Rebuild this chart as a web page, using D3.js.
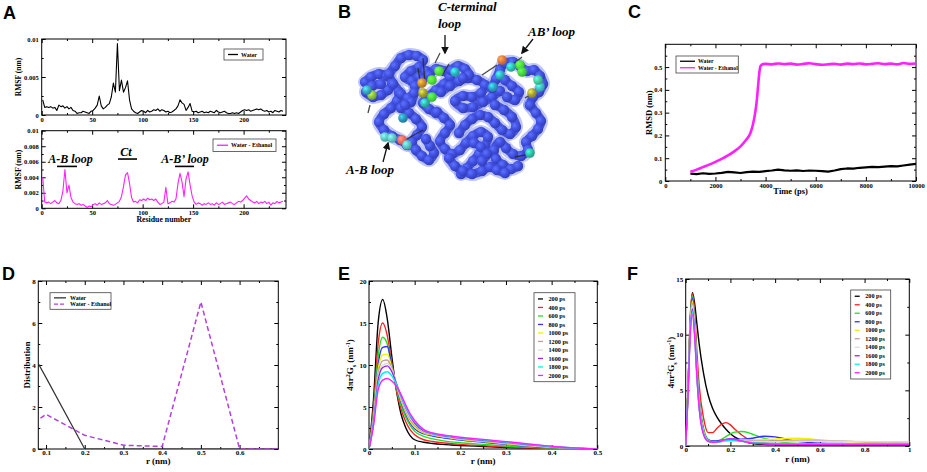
<!DOCTYPE html>
<html>
<head>
<meta charset="utf-8">
<script src="https://cdnjs.cloudflare.com/ajax/libs/d3/7.8.5/d3.min.js"></script>
<style>
  body { margin: 0; background: #fff; }
  text { font-family: "Liberation Serif", "Times New Roman", serif; font-weight: bold; }
  .plabel { font-family: "Liberation Sans", Arial, sans-serif; font-size: 18px; }
  .note { font-style: italic; font-size: 13px; }
</style>
</head>
<body>
<svg id="fig" width="927" height="472"></svg>
<script>
// ---------- data ----------
// A: RMSF per residue (units of 10^-3 nm), every second residue
const residues = d3.range(1, 240, 2)
const rmsfWater = [2.0,1.0,1.1,1.0,1.1,0.9,1.0,0.6,1.3,1.1,
  1.2,0.9,1.1,0.8,1.0,0.6,0.5,0.2,0.3,0.3,
  0.5,0.4,0.3,0.2,0.5,0.6,0.9,1.3,2.5,1.2,
  0.8,1.0,1.3,1.5,2.4,4.2,3.0,9.4,3.2,4.6,
  3.0,3.6,4.5,2.0,0.8,0.5,0.3,0.2,0.4,0.6,
  0.5,0.3,0.6,0.4,0.5,0.7,0.6,0.8,0.5,0.7,
  0.6,0.4,0.5,0.3,0.4,0.6,0.8,1.2,2.0,1.6,
  1.4,0.6,1.0,1.5,0.5,0.4,0.5,0.3,0.4,0.5,
  0.3,0.4,0.3,0.5,0.4,0.3,0.6,0.4,0.3,0.4,
  0.5,0.3,0.2,0.2,0.3,0.2,0.3,0.2,0.4,0.6,
  0.7,0.6,0.7,0.5,0.6,0.7,0.8,0.7,0.8,0.6,
  0.5,0.6,0.4,0.5,0.3,0.6,0.5,0.4,0.6,0.5]
const rmsfEthanol = [4.0,0.8,0.7,0.8,0.6,0.8,1.0,0.7,0.6,1.0,
  2.2,5.0,2.0,3.0,1.4,0.8,0.6,0.5,0.6,0.4,
  0.5,0.3,0.1,0.3,0.2,0.5,0.6,0.4,0.7,0.5,
  0.6,0.7,1.0,0.6,0.5,0.4,0.5,0.7,0.9,1.5,
  2.8,4.3,4.6,3.2,1.4,0.8,0.9,0.7,1.1,1.0,
  1.2,1.0,1.3,1.1,1.2,1.0,1.2,0.8,0.5,0.6,
  0.8,2.7,0.6,0.7,0.9,0.8,1.2,3.2,4.5,3.4,
  1.5,3.8,4.7,3.0,1.6,0.8,0.5,0.7,0.6,0.4,
  0.6,0.5,0.7,0.5,0.6,0.4,0.7,0.5,0.6,0.8,
  0.5,0.6,0.7,0.8,0.6,0.5,0.7,0.9,0.8,1.0,
  1.3,1.6,1.2,1.0,0.8,0.7,0.9,0.6,0.8,0.7,
  0.9,0.6,0.8,0.4,0.7,0.6,0.9,0.7,0.8,0.9]

// C: RMSD vs time
const timeWater = d3.range(1000, 10001, 250)
const rmsdWater = [0.032,0.030,0.034,0.031,0.033,0.036,0.040,0.038,0.035,0.039,
  0.041,0.040,0.043,0.046,0.050,0.047,0.045,0.047,0.044,0.046,
  0.045,0.043,0.041,0.046,0.052,0.055,0.054,0.058,0.060,0.062,
  0.061,0.063,0.065,0.064,0.068,0.072,0.075]
const timeEthanol = [1000,1250,1500,1750,2000,2250,2500,2750,3000,3200,3400,3500,3600,3650,3700,3750,3800,3900,4000,
  4250,4500,4750,5000,5250,5500,5750,6000,6250,6500,6750,7000,7250,7500,7750,8000,8250,8500,8750,9000,9250,9500,9750,10000]
const rmsdEthanol = [0.040,0.050,0.061,0.072,0.084,0.097,0.112,0.130,0.152,0.178,0.212,0.250,0.310,0.355,0.415,0.475,0.505,0.513,0.514,
  0.512,0.516,0.513,0.515,0.511,0.514,0.517,0.513,0.510,0.512,0.514,0.511,0.515,0.513,0.516,0.512,0.514,0.517,0.513,0.515,0.512,0.518,0.514,0.516]

// D: distribution
const rD = [0, 0.1, 0.2, 0.3, 0.4, 0.5, 0.6, 0.7]
const distWater = [6.75, 3.4, 0, 0, 0, 0, 0, 0]
const distEthanol = [0.4, 1.65, 0.65, 0.18, 0.12, 7.0, 0, 0]

// E, F: 4πr²Gs curves for each time frame
const frameLabels = ["200 ps","400 ps","600 ps","800 ps","1000 ps","1200 ps","1400 ps","1600 ps","1800 ps","2000 ps"]
const frameColors = ["#000000","#ff2020","#20e020","#3030ff","#f0f000","#c89c9c","#dcdcdc","#a020f0","#00f0f0","#ff20ff"]
const rE = [0,.01,.02,.03,.04,.05,.06,.07,.08,.09,.10,.12,.14,.16,.18,.20,.25,.30,.35,.40,.45,.50]
const gsE = [
  [0,6.0,15.0,17.8,15.5,11.0,7.0,4.2,2.6,1.6,1.1,0.8,0.65,0.55,0.48,0.42,0.30,0.18,0.10,0.05,0.02,0],
  [0,5.0,12.5,15.0,13.5,10.2,7.0,4.8,3.3,2.3,1.7,1.1,0.9,0.75,0.65,0.55,0.40,0.25,0.15,0.08,0.03,0],
  [0,4.5,11.0,13.3,12.5,10.0,7.3,5.2,3.8,2.8,2.1,1.5,1.2,1.0,0.85,0.75,0.55,0.35,0.20,0.10,0.04,0],
  [0,4.0,10.0,12.1,12.2,9.9,7.5,5.6,4.2,3.1,2.4,1.8,1.55,1.35,1.2,1.05,0.80,0.55,0.32,0.16,0.06,0],
  [0,3.8,9.5,11.2,11.3,9.7,7.6,5.8,4.4,3.3,2.6,1.9,1.65,1.45,1.3,1.15,0.90,0.62,0.38,0.20,0.08,0],
  [0,3.6,9.0,10.5,10.6,9.5,7.7,6.0,4.6,3.5,2.8,2.0,1.7,1.5,1.35,1.2,0.95,0.68,0.42,0.22,0.09,0],
  [0,3.4,8.5,10.0,10.2,9.4,7.8,6.1,4.8,3.7,3.0,2.1,1.75,1.55,1.4,1.25,1.0,0.72,0.45,0.24,0.10,0],
  [0,3.2,8.2,9.7,9.9,9.2,7.8,6.3,5.0,3.9,3.1,2.15,1.8,1.6,1.45,1.3,1.05,0.78,0.50,0.27,0.11,0],
  [0,3.0,7.6,9.0,9.2,8.7,7.7,6.4,5.1,4.0,3.3,2.25,1.85,1.65,1.5,1.35,1.1,0.82,0.55,0.30,0.12,0],
  [0,2.8,7.0,8.2,8.4,8.1,7.5,6.5,5.3,4.2,3.4,2.3,1.9,1.7,1.55,1.4,1.15,0.88,0.60,0.33,0.13,0]]
const rF = [0,.01,.02,.03,.04,.05,.06,.08,.10,.12,.14,.16,.18,.20,.22,.25,.28,.30,.35,.40,.45,.50,.55,.60,.70,.80,.90,1.0]
const gsF = [
  [0,5.0,11.0,13.8,12.8,11.0,9.2,6.5,4.6,3.4,2.6,2.0,1.5,1.1,0.8,0.5,0.3,0.22,0.15,0.12,0.1,0.1,0.1,0.1,0.1,0.1,0.1,0.1],
  [0,5.0,11.5,13.7,12.0,8.5,5.5,2.5,1.2,1.2,1.6,1.95,2.1,1.9,1.5,1.0,0.6,0.45,0.3,0.22,0.18,0.15,0.14,0.13,0.12,0.12,0.12,0.12],
  [0,5.0,11.3,13.5,11.5,7.5,4.5,1.6,0.6,0.42,0.45,0.6,0.85,1.1,1.25,1.3,1.2,1.05,0.7,0.45,0.3,0.22,0.2,0.18,0.17,0.17,0.17,0.17],
  [0,4.8,11.0,13.3,11.2,7.2,4.2,1.4,0.55,0.45,0.45,0.5,0.55,0.6,0.62,0.62,0.65,0.7,0.88,0.82,0.6,0.42,0.32,0.26,0.22,0.2,0.2,0.2],
  [0,4.7,10.8,13.0,11.0,7.0,4.0,1.3,0.5,0.38,0.38,0.42,0.48,0.52,0.55,0.55,0.55,0.55,0.58,0.62,0.68,0.7,0.65,0.55,0.42,0.35,0.33,0.32],
  [0,4.6,10.6,12.8,10.8,6.8,3.9,1.25,0.5,0.36,0.36,0.4,0.45,0.5,0.5,0.5,0.48,0.46,0.45,0.47,0.5,0.52,0.52,0.5,0.45,0.38,0.35,0.33],
  [0,4.5,10.4,12.6,10.6,6.6,3.8,1.2,0.48,0.35,0.35,0.4,0.45,0.48,0.47,0.45,0.42,0.4,0.38,0.38,0.4,0.42,0.42,0.42,0.42,0.4,0.38,0.36],
  [0,4.4,10.2,12.3,10.2,6.4,3.6,1.1,0.45,0.35,0.37,0.48,0.6,0.65,0.6,0.45,0.32,0.26,0.2,0.17,0.16,0.15,0.15,0.15,0.15,0.15,0.15,0.15],
  [0,4.3,10.0,12.0,10.0,6.3,3.5,1.05,0.42,0.33,0.34,0.4,0.48,0.52,0.5,0.42,0.35,0.3,0.25,0.22,0.2,0.2,0.2,0.2,0.2,0.2,0.2,0.2],
  [0,4.2,9.8,11.8,9.8,6.2,3.4,1.0,0.42,0.34,0.36,0.47,0.58,0.62,0.58,0.44,0.32,0.26,0.2,0.17,0.16,0.15,0.15,0.15,0.15,0.15,0.15,0.15]]

// tick values
const ticksA = [0, 50, 100, 150, 200], minorA = d3.range(25, 242, 50)
const ticksAyTop = [0, 5, 10], minorAyTop = [2.5, 7.5]
const ticksAyBot = [0, 2, 4, 6, 8, 10], minorAyBot = [1, 3, 5, 7, 9]
const ticksCx = [0, 2000, 4000, 6000, 8000, 10000], minorCx = [1000, 3000, 5000, 7000, 9000]
const ticksCy = [0, 0.1, 0.2, 0.3, 0.4, 0.5], minorCy = [0.05, 0.15, 0.25, 0.35, 0.45, 0.55]
const ticksDx = [0.1, 0.2, 0.3, 0.4, 0.5, 0.6], minorDx = [0.15, 0.25, 0.35, 0.45, 0.55, 0.65]
const ticksDy = [0, 2, 4, 6, 8], minorDy = [1, 3, 5, 7]
const ticksEx = [0, 0.1, 0.2, 0.3, 0.4, 0.5], minorEx = [0.05, 0.15, 0.25, 0.35, 0.45]
const ticksEy = [0, 5, 10, 15, 20], minorEy = [2.5, 7.5, 12.5, 17.5]
const ticksFx = [0, 0.2, 0.4, 0.6, 0.8, 1], minorFx = [0.1, 0.3, 0.5, 0.7, 0.9]
const ticksFy = [0, 5, 10, 15], minorFy = [2.5, 7.5, 12.5]

// B: protein structure sketch (local coordinates)
const chains = [
  [[10,32],[16,27],[24,24],[32,26],[37,33],[33,40],[26,45],[18,47],[11,42],[17,36],[26,34]],
  [[34,24],[40,16],[46,8],[54,5],[62,6],[68,10],[64,17],[56,21],[50,27],[57,31],[64,27],[71,21]],
  [[38,34],[44,42],[42,51],[36,58],[29,64],[24,72],[29,80],[37,86],[45,90],[52,95]],
  [[46,58],[54,63],[61,69],[67,77],[62,85],[57,92],[61,100],[67,106],[74,110],[79,103],[75,96],[71,89]],
  [[60,36],[67,30],[74,25],[81,19],[89,21],[95,27],[89,34],[81,40],[74,46],[68,53],[74,59],[81,63]],
  [[86,42],[95,36],[104,31],[113,28],[122,30],[130,35],[126,43],[117,47],[108,46],[100,51],[108,58],[118,57],[128,52],[137,47],[145,41]],
  [[82,62],[89,68],[95,75],[90,83],[85,91],[90,99],[97,104],[105,100],[111,93],[118,86],[126,82],[133,87],[130,96],[124,104],[118,111],[112,118],[106,124]],
  [[137,38],[141,29],[145,20],[150,13],[158,12],[165,16],[172,21],[179,20],[185,26],[188,34],[184,42],[178,47],[175,55]],
  [[175,55],[181,63],[186,71],[183,79],[177,86],[171,92],[173,100],[166,106],[158,104],[151,98],[145,92],[139,100],[141,109],[148,115],[156,119],[163,116]],
  [[140,55],[149,60],[157,67],[161,77],[155,84],[147,80],[140,73],[133,67],[125,65],[117,69],[110,75],[104,83]],
  [[94,108],[100,116],[108,121],[117,124],[127,121],[135,117],[142,120],[150,123]],
  [[96,20],[103,16],[110,19],[114,25],[108,28]],
  [[46,44],[53,48],[59,43],[56,52],[50,55]],
  [[150,30],[157,36],[164,42],[160,50],[152,47]],
  [[119,93],[126,97],[132,104],[127,111]]]
const hotBeads = [[17,45,"#8cc63f"],[12,40,"#3aa6b9"],[67,33,"#c98a2e"],[68,43,"#a3a32f"],[77,30,"#4ee23a"],
  [84,21,"#55e03c"],[77,47,"#44dd44"],[70,53,"#2fb5aa"],[100,22,"#2db2be"],[30,87,"#5cc6c4"],[37,88,"#62c9c6"],
  [47,90,"#ee6a5e"],[52,95,"#5cc4bd"],[48,68,"#2b93b5"],[147,10,"#e2773c"],[165,15,"#4fe23f"],[167,22,"#45d842"],
  [156,17,"#2fc1b1"],[145,25,"#2fb3c1"],[138,37,"#2aa2c2"],[177,43,"#a4a233"],[185,37,"#3fc2c0"],[183,30,"#48cc9c"],
  [175,103,"#2fc1a2"]]
const sticks = [[15,55,13,63],[68,8,70,33],[80,13,85,3],[50,90,68,80],[127,25,142,15],[157,15,167,7],
  [170,48,178,43],[160,107,170,105],[63,18,66,36],[88,24,94,14]]
const arrowsB = [[90,-15,90,3],[178,-11,167,3],[28,112,33,93]]
const notesB = [["C-terminal",83,-39],["loop",83,-22],["AB\u2019 loop",173,-14],["A-B loop",-9,124]]

// ---------- drawing ----------
const svg = d3.select("#fig")
const defs = svg.append("defs")
let clipId = 0

function panel(c) {
  const x = d3.scaleLinear().domain(c.xd).range([c.l, c.r])
  const y = d3.scaleLinear().domain(c.yd).range([c.b, c.t])
  const g = svg.append("g")
  const fmt = d3.format("~g")
  const sides = [
    [d3.axisBottom, x, `translate(0,${c.b})`, c.xt, c.xm, c.xf || fmt, c.xp],
    [d3.axisTop, x, `translate(0,${c.t})`, c.xt, c.xm, "", 0],
    [d3.axisLeft, y, `translate(${c.l},0)`, c.yt, c.ym, c.yf || fmt, c.yp],
    [d3.axisRight, y, `translate(${c.r},0)`, c.yt, c.ym, "", 0]]
  sides.forEach(([mk, sc, tr, major, minor, f, pad]) => {
    g.append("g").attr("transform", tr)
      .call(mk(sc).tickValues(minor).tickSize(-2).tickFormat(""))
      .call(s => s.select(".domain").remove())
    g.append("g").attr("transform", tr)
      .call(mk(sc).tickValues(major).tickSize(-4).tickPadding(pad).tickFormat(f))
      .attr("font-family", '"Liberation Serif","Times New Roman",serif')
      .attr("font-size", c.fs).attr("font-weight", "bold")
      .call(s => s.select(".domain").remove())
  })
  g.append("rect").attr("x", c.l).attr("y", c.t).attr("width", c.r - c.l).attr("height", c.b - c.t)
    .attr("fill", "none").attr("stroke", "#000").attr("stroke-width", 1)
  const id = "clip" + (clipId++)
  defs.append("clipPath").attr("id", id).append("rect")
    .attr("x", c.l).attr("y", c.t).attr("width", c.r - c.l).attr("height", c.b - c.t)
  const plot = g.append("g").attr("clip-path", `url(#${id})`)
  if (c.xlab) g.append("text").attr("x", (c.l + c.r) / 2).attr("y", c.xly)
    .attr("text-anchor", "middle").attr("font-size", c.lfs).text(c.xlab)
  if (c.ylab) g.append("text").attr("transform", `translate(${c.ylx},${(c.t + c.b) / 2}) rotate(-90)`)
    .attr("text-anchor", "middle").attr("font-size", c.lfs).text(c.ylab)
  return { x, y, g, plot }
}

function drawLine(p, xs, ys, color, width, curve, dash) {
  const line = d3.line().x((d, i) => p.x(xs[i])).y(d => p.y(d)).curve(curve || d3.curveLinear)
  p.plot.append("path").datum(ys).attr("d", line).attr("fill", "none")
    .attr("stroke", color).attr("stroke-width", width).attr("stroke-linejoin", "round")
    .attr("stroke-dasharray", dash || null)
}

function legend(g, x0, y0, w, rowH, items, fs, lineLen, textGap) {
  g.append("rect").attr("x", x0).attr("y", y0).attr("width", w).attr("height", rowH * items.length + 4)
    .attr("fill", "#fff").attr("stroke", "#444").attr("stroke-width", 0.8)
  items.forEach(([lab, col, dash], i) => {
    const yy = y0 + 2 + rowH * (i + 0.5)
    g.append("line").attr("x1", x0 + 4).attr("x2", x0 + 4 + lineLen).attr("y1", yy).attr("y2", yy)
      .attr("stroke", col).attr("stroke-width", 1.3).attr("stroke-dasharray", dash || null)
    g.append("text").attr("x", x0 + 4 + lineLen + textGap).attr("y", yy + fs * 0.35)
      .attr("font-size", fs).text(lab)
  })
}

function panelLetter(t, x, y) {
  svg.append("text").attr("class", "plabel").attr("x", x).attr("y", y).text(t)
}

// ----- A -----
const aTop = panel({ l: 41.7, r: 286, t: 39, b: 115, xd: [0, 242], yd: [0, 10],
  xt: ticksA, xm: minorA, yt: ticksAyTop, ym: minorAyTop, xp: 2, yp: 3, fs: 6.5,
  yf: d => d3.format("~g")(d / 1000), ylab: "RMSF (nm)", ylx: 20.5, lfs: 7.5 })
drawLine(aTop, residues, rmsfWater, "#000", 1.1)
legend(aTop.g, 224, 49, 39, 7, [["Water", "#000"]], 6, 10, 3)

const aBot = panel({ l: 41.7, r: 286, t: 130.7, b: 208.3, xd: [0, 242], yd: [0, 10],
  xt: ticksA, xm: minorA, yt: ticksAyBot, ym: minorAyBot, xp: 2, yp: 3, fs: 6.5,
  yf: d => d3.format("~g")(d / 1000), ylab: "RMSF (nm)", ylx: 20.5, xlab: "Residue number", xly: 221.5, lfs: 7.8 })
drawLine(aBot, residues, rmsfEthanol, "#ff20ff", 1.1)
legend(aBot.g, 213, 139, 63, 8.5, [["Water - Ethanol", "#ff20ff"]], 6, 11, 3)
const annA = [["A-B loop", 28.5, 5.85, 57, 77], ["Ct", 83.5, 6.8, 118, 137], ["A-B\u2019 loop", 142, 5.85, 175, 194]]
annA.forEach(([t, res, v, bx1, bx2]) => {
  aBot.g.append("text").attr("class", "note").attr("font-size", 12).attr("x", aBot.x(res)).attr("y", aBot.y(v))
    .attr("text-anchor", "middle").style("font-size", "12px").text(t)
  aBot.g.append("line").attr("x1", bx1).attr("x2", bx2)
    .attr("y1", aBot.y(v) + 3.5).attr("y2", aBot.y(v) + 3.5)
    .attr("stroke", "#000").attr("stroke-width", 1.6)
})
panelLetter("A", 3, 19)

// ----- B -----
const bx = d3.scaleLinear().domain([0, 200]).range([355, 555])
const by = d3.scaleLinear().domain([0, 130]).range([50, 180])
function beadGrad(id, c) {
  const gr = defs.append("radialGradient").attr("id", id).attr("cx", "35%").attr("cy", "35%").attr("r", "70%")
  gr.append("stop").attr("offset", "0%").attr("stop-color", d3.color(c).brighter(1.1))
  gr.append("stop").attr("offset", "55%").attr("stop-color", c)
  gr.append("stop").attr("offset", "100%").attr("stop-color", d3.color(c).darker(0.7))
}
beadGrad("beadBlue", "#3f4ee0")
const gB = svg.append("g")
const tube = d3.line().x(d => bx(d[0])).y(d => by(d[1])).curve(d3.curveCatmullRom)
chains.forEach(ch => {
  gB.append("path").datum(ch).attr("d", tube).attr("fill", "none").attr("stroke", "#7482ea")
    .attr("stroke-width", 14).attr("stroke-linecap", "round").attr("stroke-linejoin", "round").attr("opacity", 0.45)
})
chains.forEach(ch => {
  gB.append("path").datum(ch).attr("d", tube).attr("fill", "none").attr("stroke", "#3a47da")
    .attr("stroke-width", 9).attr("stroke-linecap", "round").attr("opacity", 0.9)
  gB.selectAll(null).data(ch).join("circle").attr("cx", d => bx(d[0])).attr("cy", d => by(d[1]))
    .attr("r", 5.2).attr("fill", "url(#beadBlue)")
})
gB.selectAll(null).data(sticks).join("line")
  .attr("x1", d => bx(d[0])).attr("y1", d => by(d[1])).attr("x2", d => bx(d[2])).attr("y2", d => by(d[3]))
  .attr("stroke", "#2a2a2a").attr("stroke-width", 1.3).attr("opacity", 0.85)
hotBeads.forEach((d, i) => beadGrad("hot" + i, d[2]))
gB.selectAll(null).data(hotBeads).join("circle").attr("cx", d => bx(d[0])).attr("cy", d => by(d[1]))
  .attr("r", 4.8).attr("fill", (d, i) => `url(#hot${i})`)
defs.append("marker").attr("id", "arrowHead").attr("viewBox", "0 0 10 10").attr("refX", 8).attr("refY", 5)
  .attr("markerWidth", 6).attr("markerHeight", 6).attr("orient", "auto")
  .append("path").attr("d", "M0,0 L10,5 L0,10 z").attr("fill", "#111")
gB.selectAll(null).data(arrowsB).join("line")
  .attr("x1", d => bx(d[0])).attr("y1", d => by(d[1])).attr("x2", d => bx(d[2])).attr("y2", d => by(d[3]))
  .attr("stroke", "#111").attr("stroke-width", 1.3).attr("marker-end", "url(#arrowHead)")
gB.selectAll(null).data(notesB).join("text").attr("class", "note")
  .attr("x", d => bx(d[1])).attr("y", d => by(d[2])).text(d => d[0])
panelLetter("B", 338, 18)

// ----- C -----
const pC = panel({ l: 665.3, r: 916, t: 44.3, b: 181, xd: [0, 10000], yd: [0, 0.6],
  xt: ticksCx, xm: minorCx, yt: ticksCy, ym: minorCy, xp: 2, yp: 3, fs: 6.5,
  xlab: "Time (ps)", xly: 194, ylab: "RMSD (nm)", ylx: 651.5, lfs: 8.5 })
drawLine(pC, timeWater, rmsdWater, "#000", 2.2)
drawLine(pC, timeEthanol, rmsdEthanol, "#ff20ff", 2.6, d3.curveMonotoneX)
legend(pC.g, 676, 56, 62.3, 6.5, [["Water", "#000"], ["Water - Ethanol", "#ff20ff"]], 5.8, 15, 3)
panelLetter("C", 628, 18)

// ----- D -----
const pD = panel({ l: 38.3, r: 278.3, t: 281, b: 449, xd: [0.08, 0.7], yd: [0, 8],
  xt: ticksDx, xm: minorDx, yt: ticksDy, ym: minorDy, xp: 1, yp: 2.5, fs: 7,
  xlab: "r (nm)", xly: 463.5, ylab: "Distribution", ylx: 29.5, lfs: 9 })
drawLine(pD, rD, distWater, "#333", 1.2)
drawLine(pD, rD, distEthanol, "#b040e0", 1.5, null, "5,3")
legend(pD.g, 50, 292.7, 61, 6.3, [["Water", "#333"], ["Water - Ethanol", "#b040e0", "4,2"]], 6, 12, 4)
panelLetter("D", 2, 280)

// ----- E -----
const pE = panel({ l: 369, r: 597.3, t: 281, b: 449, xd: [0, 0.5], yd: [0, 20],
  xt: ticksEx, xm: minorEx, yt: ticksEy, ym: minorEy, xp: 1, yp: 2.5, fs: 7,
  xlab: "r (nm)", xly: 463.5, lfs: 9 })
gsE.forEach((s, i) => drawLine(pE, rE, s, frameColors[i], 1.4, d3.curveMonotoneX))
legend(pE.g, 534, 292.7, 41, 8.5, frameLabels.map((l, i) => [l, frameColors[i]]), 6.2, 5, 5.5)
panelLetter("E", 338, 280)

// ----- F -----
const pF = panel({ l: 685.7, r: 909.3, t: 279, b: 446, xd: [0, 1], yd: [0, 15],
  xt: ticksFx, xm: minorFx, yt: ticksFy, ym: minorFy, xp: 1, yp: 2.5, fs: 7,
  xlab: "r (nm)", xly: 462, lfs: 9 })
gsF.forEach((s, i) => drawLine(pF, rF, s, frameColors[i], 1.4, d3.curveMonotoneX))
legend(pF.g, 850.7, 290, 40, 8.5, frameLabels.map((l, i) => [l, frameColors[i]]), 6.2, 5, 5.5)
panelLetter("F", 627, 280)

// y labels with sub/superscripts for E and F
function gsLabel(x, yMid) {
  const t = svg.append("text").attr("transform", `translate(${x},${yMid}) rotate(-90)`)
    .attr("text-anchor", "middle").attr("font-size", 9)
  t.append("tspan").text("4\u03c0r")
  t.append("tspan").attr("baseline-shift", "super").attr("font-size", 6).text("2")
  t.append("tspan").text("G")
  t.append("tspan").attr("baseline-shift", "sub").attr("font-size", 6).text("s")
  t.append("tspan").text(" (nm")
  t.append("tspan").attr("baseline-shift", "super").attr("font-size", 6).text("-1")
  t.append("tspan").text(")")
}
gsLabel(353, (281 + 449) / 2)
gsLabel(674, (279 + 446) / 2)
</script>
</body>
</html>
